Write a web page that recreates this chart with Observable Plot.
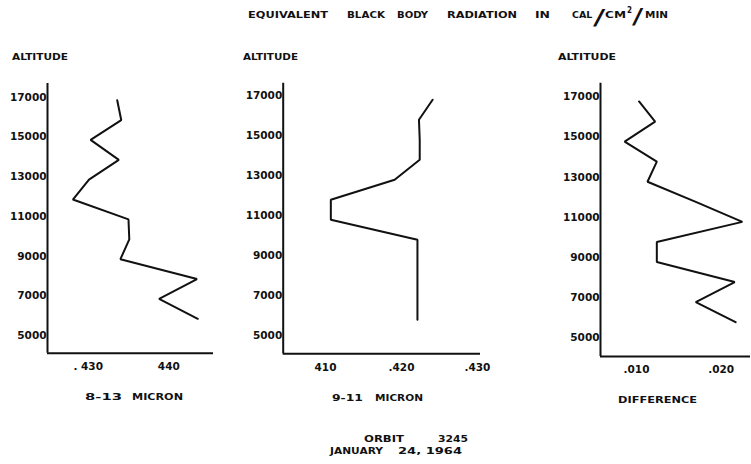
<!DOCTYPE html>
<html><head><meta charset="utf-8">
<script src="https://cdn.jsdelivr.net/npm/d3@7"></script>
<script src="https://cdn.jsdelivr.net/npm/@observablehq/plot@0.6"></script>
<style>
html,body{margin:0;padding:0;background:#fff}
#chart{position:relative;width:751px;height:464px;overflow:hidden;background:#fff}
#chart svg{position:absolute;top:0}
</style></head><body><div id="chart"></div>
<script>
// Altitude (ft) and equivalent black body radiation (cal/cm²/min)
const altitude   = [17000, 16000, 15000, 14000, 13000, 12000, 11000, 10000, 9000, 8000, 7000, 6000];
const band813    = [0.4336, 0.4341, 0.4303, 0.4338, 0.4301, 0.4281, 0.4350, 0.4351, 0.4340, 0.4435, 0.4388, 0.4436];
const band911    = [0.4241, 0.4223, 0.4224, 0.4224, 0.4191, 0.4107, 0.4107, 0.4221, 0.4221, 0.4221, 0.4221, 0.4221];
const difference = [0.0103, 0.0122, 0.0086, 0.0124, 0.0113, 0.0170, 0.0225, 0.0124, 0.0124, 0.0216, 0.0170, 0.0217];

const altitudeTicks = [5000, 7000, 9000, 11000, 13000, 15000, 17000];
const ticks813 = [0.430, 0.440];        const tickLabels813 = [". 430", "440"];
const ticks911 = [0.410, 0.420, 0.430]; const tickLabels911 = ["410", ".420", ".430"];
const ticksDiff = [0.010, 0.020];       const tickLabelsDiff = [".010", ".020"];

const axisTitles = ["8-13  MICRON", "9-11  MICRON", "DIFFERENCE"];

const FONT = "'DejaVu Sans', sans-serif";
const INK = "#111";
const chart = document.getElementById("chart");

function panel({values, xDomain, yDomain, xTicks, xTickLabels, left, width, margins, labelDy}) {
  const data = altitude.map((a, i) => ({altitude: a, value: values[i]}));
  const svg = Plot.plot({
    width, height: 400,
    marginTop: margins[0], marginRight: margins[1], marginBottom: margins[2], marginLeft: margins[3],
    style: {fontFamily: FONT, fontSize: "10.5px", fontWeight: "bold", background: "transparent", color: INK, overflow: "visible"},
    x: {domain: xDomain, label: null},
    y: {domain: yDomain, label: null},
    marks: [
      Plot.axisY(altitudeTicks, {tickSize: 0, tickPadding: 1, dy: labelDy, tickFormat: d => String(d), fontWeight: "bold", fontSize: 10.5}),
      Plot.axisX(xTicks, {tickSize: 0, tickPadding: 9.5, tickFormat: d => xTickLabels[xTicks.indexOf(d)], fontWeight: "bold", fontSize: 10.5}),
      Plot.ruleX([xDomain[0]], {stroke: INK, strokeWidth: 2}),
      Plot.ruleY([yDomain[0]], {stroke: INK, strokeWidth: 2}),
      Plot.line(data, {x: "value", y: "altitude", stroke: INK, strokeWidth: 2, strokeLinejoin: "miter"})
    ]
  });
  svg.style.left = left + "px";
  chart.appendChild(svg);
}

panel({values: band813, xDomain: [0.42495, 0.44555], yDomain: [4269, 17840],
  xTicks: ticks813, xTickLabels: tickLabels813, left: 0, width: 230, margins: [83, 17, 47.3, 47], labelDy: -3});
panel({values: band911, xDomain: [0.40443, 0.4304], yDomain: [4300, 17830],
  xTicks: ticks911, xTickLabels: tickLabels911, left: 230, width: 260, margins: [82.7, 10, 46.7, 52.7], labelDy: -4});
panel({values: difference, xDomain: [0.00575, 0.02346], yDomain: [4290, 17912],
  xTicks: ticksDiff, xTickLabels: tickLabelsDiff, left: 540, width: 211, margins: [82.7, 1, 44, 60], labelDy: -4.5});

// Text overlay
const overlay = d3.select(chart).append("svg")
  .attr("width", 751).attr("height", 464)
  .style("left", "0px").style("pointer-events", "none")
  .attr("font-family", FONT).attr("font-weight", "bold").attr("fill", INK);

function txt(s, x, yc, w, size = 9.5) {
  const t = overlay.append("text")
    .attr("x", x).attr("y", yc + 0.365 * size)
    .attr("font-size", size)
    .style("white-space", "pre")
    .text(s);
  if (w) t.attr("textLength", w).attr("lengthAdjust", "spacingAndGlyphs");
}
function slash(x, ytop, ybot, w) {
  overlay.append("text")
    .attr("transform", `translate(${x},${ybot}) scale(${w / 7},1)`)
    .attr("font-size", (ybot - ytop) * 1.12)
    .attr("font-weight", "normal")
    .attr("y", -0.13 * (ybot - ytop))
    .text("/");
}

// title
txt("EQUIVALENT", 248, 15, 80);
txt("BLACK", 347, 15, 38);
txt("BODY", 397, 15, 31);
txt("RADIATION", 447, 15, 70);
txt("IN", 535, 15, 15);
txt("CAL", 572, 15, null);
slash(593, 8, 27, 12);
txt("CM", 605, 15, 21);
txt("2", 627, 10.5, 5, 8);
slash(632, 7, 26, 11);
txt("MIN", 645, 15, 23);

// altitude labels
txt("ALTITUDE", 12, 57, 56);
txt("ALTITUDE", 243, 57, 55);
txt("ALTITUDE", 558, 57, 58);

// x axis titles
txt("8-13", 85, 396.7, 37);
txt("MICRON", 132, 396.7, 51);
txt("9-11", 332, 398, 31);
txt("MICRON", 375, 398, 48);
txt(axisTitles[2], 618, 400, 79);

// caption
txt("ORBIT", 364, 438.7, 40);
txt("3245", 438, 438.7, 30);
txt("JANUARY", 330, 450.5, 53);
txt("24, 1964", 398, 450.5, 64);
</script></body></html>
